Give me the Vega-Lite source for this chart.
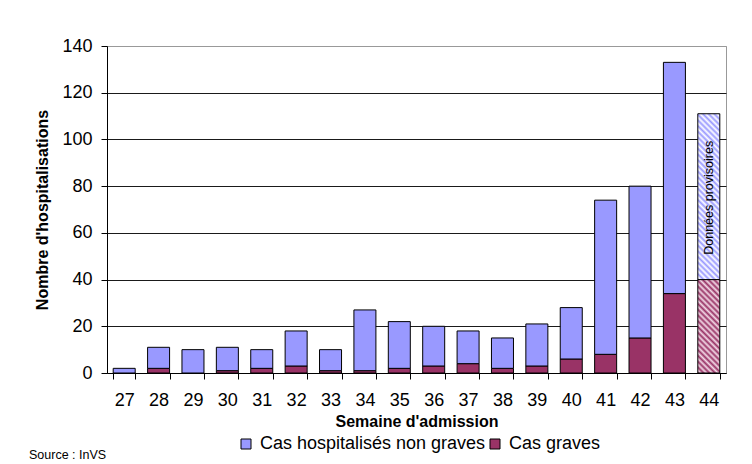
{
  "$schema": "https://vega.github.io/schema/vega-lite/v6.json",
  "width": 619,
  "height": 327,
  "autosize": {"type": "none"},
  "padding": {"left": 107, "top": 46, "right": 26, "bottom": 91},
  "background": "white",
  "config": {
    "font": "Liberation Sans",
    "view": {"stroke": "#999999", "strokeWidth": 1}
  },
  "title": {
    "text": "Source : InVS",
    "orient": "bottom",
    "anchor": "start",
    "frame": "group",
    "fontSize": 12.5,
    "fontWeight": "normal",
    "color": "black",
    "dx": -78,
    "dy": -4,
    "offset": 0
  },
  "datasets": {
    "hosp": [
      {"semaine": 27, "type": "Cas graves", "n": 0},
      {"semaine": 27, "type": "Cas hospitalisés non graves", "n": 2},
      {"semaine": 28, "type": "Cas graves", "n": 2},
      {"semaine": 28, "type": "Cas hospitalisés non graves", "n": 9},
      {"semaine": 29, "type": "Cas graves", "n": 0},
      {"semaine": 29, "type": "Cas hospitalisés non graves", "n": 10},
      {"semaine": 30, "type": "Cas graves", "n": 1},
      {"semaine": 30, "type": "Cas hospitalisés non graves", "n": 10},
      {"semaine": 31, "type": "Cas graves", "n": 2},
      {"semaine": 31, "type": "Cas hospitalisés non graves", "n": 8},
      {"semaine": 32, "type": "Cas graves", "n": 3},
      {"semaine": 32, "type": "Cas hospitalisés non graves", "n": 15},
      {"semaine": 33, "type": "Cas graves", "n": 1},
      {"semaine": 33, "type": "Cas hospitalisés non graves", "n": 9},
      {"semaine": 34, "type": "Cas graves", "n": 1},
      {"semaine": 34, "type": "Cas hospitalisés non graves", "n": 26},
      {"semaine": 35, "type": "Cas graves", "n": 2},
      {"semaine": 35, "type": "Cas hospitalisés non graves", "n": 20},
      {"semaine": 36, "type": "Cas graves", "n": 3},
      {"semaine": 36, "type": "Cas hospitalisés non graves", "n": 17},
      {"semaine": 37, "type": "Cas graves", "n": 4},
      {"semaine": 37, "type": "Cas hospitalisés non graves", "n": 14},
      {"semaine": 38, "type": "Cas graves", "n": 2},
      {"semaine": 38, "type": "Cas hospitalisés non graves", "n": 13},
      {"semaine": 39, "type": "Cas graves", "n": 3},
      {"semaine": 39, "type": "Cas hospitalisés non graves", "n": 18},
      {"semaine": 40, "type": "Cas graves", "n": 6},
      {"semaine": 40, "type": "Cas hospitalisés non graves", "n": 22},
      {"semaine": 41, "type": "Cas graves", "n": 8},
      {"semaine": 41, "type": "Cas hospitalisés non graves", "n": 66},
      {"semaine": 42, "type": "Cas graves", "n": 15},
      {"semaine": 42, "type": "Cas hospitalisés non graves", "n": 65},
      {"semaine": 43, "type": "Cas graves", "n": 34},
      {"semaine": 43, "type": "Cas hospitalisés non graves", "n": 99},
      {"semaine": 44, "type": "Cas graves", "n": 40},
      {"semaine": 44, "type": "Cas hospitalisés non graves", "n": 71}
    ]
  },
  "encoding": {
    "x": {
      "field": "semaine",
      "type": "ordinal",
      "scale": {
        "domain": [27, 28, 29, 30, 31, 32, 33, 34, 35, 36, 37, 38, 39, 40, 41, 42, 43, 44],
        "paddingInner": 0.36,
        "paddingOuter": 0.18
      },
      "axis": {
        "title": "Semaine d'admission",
        "titleFontSize": 16,
        "titleFontWeight": "bold",
        "titleColor": "black",
        "titleY": 53,
        "titleBaseline": "alphabetic",
        "labelAngle": 0,
        "labelFontSize": 18,
        "labelColor": "black",
        "labelPadding": 12,
        "tickSize": 6,
        "tickBand": "extent",
        "tickColor": "black",
        "domainColor": "black",
        "grid": false
      }
    }
  },
  "layer": [
    {
      "data": {"name": "hosp"},
      "transform": [{"filter": "datum.semaine != 44"}],
      "mark": {"type": "bar", "stroke": "black", "strokeWidth": 1},
      "encoding": {
        "y": {
          "field": "n",
          "type": "quantitative",
          "stack": "zero",
          "scale": {"domain": [0, 140]},
          "axis": {
            "title": "Nombre d'hospitalisations",
            "titleFontSize": 16,
            "titleFontWeight": "bold",
            "titleColor": "black",
            "titleAngle": 270,
            "titleX": -65,
            "titleY": 163.5,
            "titleBaseline": "middle",
            "titleAlign": "center",
            "values": [0, 20, 40, 60, 80, 100, 120, 140],
            "labelFontSize": 18,
            "labelColor": "black",
            "labelPadding": 9,
            "tickSize": 6,
            "tickColor": "black",
            "domainColor": "black",
            "grid": true,
            "gridColor": {"condition": {"test": "datum.value == 140", "value": "#999999"}, "value": "#1a1a1a"},
            "gridWidth": 1
          }
        },
        "color": {
          "field": "type",
          "type": "nominal",
          "scale": {
            "domain": ["Cas hospitalisés non graves", "Cas graves"],
            "range": ["#9999ff", "#993366"]
          },
          "legend": {
            "title": null,
            "orient": "none",
            "direction": "horizontal",
            "legendX": 130,
            "legendY": 389,
            "symbolType": "square",
            "symbolSize": 100,
            "symbolStrokeColor": "black",
            "symbolStrokeWidth": 1,
            "symbolOpacity": 1,
            "labelFontSize": 18,
            "labelColor": "black",
            "labelOffset": 5,
            "labelLimit": 400,
            "columnPadding": 0
          }
        },
        "order": {"field": "type", "sort": "ascending"}
      }
    },
    {
      "data": {"name": "hosp"},
      "transform": [{"filter": "datum.semaine == 44"}],
      "mark": {"type": "bar", "stroke": "black", "strokeWidth": 1},
      "encoding": {
        "y": {"field": "n", "type": "quantitative", "stack": "zero"},
        "detail": {"field": "type"},
        "order": {"field": "type", "sort": "ascending"},
        "fill": {
          "condition": {
            "test": "datum.type === 'Cas graves'",
            "value": {
              "gradient": "linear",
              "x1": 0, "y1": 1, "x2": 0.2758, "y2": -0.1707,
              "stops": [
                {"offset": 0, "color": "#993366"}, {"offset": 0.025, "color": "#f2d9e6"},
                {"offset": 0.05, "color": "#993366"}, {"offset": 0.075, "color": "#f2d9e6"},
                {"offset": 0.1, "color": "#993366"}, {"offset": 0.125, "color": "#f2d9e6"},
                {"offset": 0.15, "color": "#993366"}, {"offset": 0.175, "color": "#f2d9e6"},
                {"offset": 0.2, "color": "#993366"}, {"offset": 0.225, "color": "#f2d9e6"},
                {"offset": 0.25, "color": "#993366"}, {"offset": 0.275, "color": "#f2d9e6"},
                {"offset": 0.3, "color": "#993366"}, {"offset": 0.325, "color": "#f2d9e6"},
                {"offset": 0.35, "color": "#993366"}, {"offset": 0.375, "color": "#f2d9e6"},
                {"offset": 0.4, "color": "#993366"}, {"offset": 0.425, "color": "#f2d9e6"},
                {"offset": 0.45, "color": "#993366"}, {"offset": 0.475, "color": "#f2d9e6"},
                {"offset": 0.5, "color": "#993366"}, {"offset": 0.525, "color": "#f2d9e6"},
                {"offset": 0.55, "color": "#993366"}, {"offset": 0.575, "color": "#f2d9e6"},
                {"offset": 0.6, "color": "#993366"}, {"offset": 0.625, "color": "#f2d9e6"},
                {"offset": 0.65, "color": "#993366"}, {"offset": 0.675, "color": "#f2d9e6"},
                {"offset": 0.7, "color": "#993366"}, {"offset": 0.725, "color": "#f2d9e6"},
                {"offset": 0.75, "color": "#993366"}, {"offset": 0.775, "color": "#f2d9e6"},
                {"offset": 0.8, "color": "#993366"}, {"offset": 0.825, "color": "#f2d9e6"},
                {"offset": 0.85, "color": "#993366"}, {"offset": 0.875, "color": "#f2d9e6"},
                {"offset": 0.9, "color": "#993366"}, {"offset": 0.925, "color": "#f2d9e6"},
                {"offset": 0.95, "color": "#993366"}, {"offset": 0.975, "color": "#f2d9e6"},
                {"offset": 1, "color": "#993366"}
              ]
            }
          },
          "value": {
            "gradient": "linear",
            "x1": 0, "y1": 1, "x2": 0.1477, "y2": -0.1131,
            "stops": [
              {"offset": 0, "color": "#9999ff"}, {"offset": 0.0152, "color": "#ffffff"},
              {"offset": 0.0303, "color": "#9999ff"}, {"offset": 0.0455, "color": "#ffffff"},
              {"offset": 0.0606, "color": "#9999ff"}, {"offset": 0.0758, "color": "#ffffff"},
              {"offset": 0.0909, "color": "#9999ff"}, {"offset": 0.1061, "color": "#ffffff"},
              {"offset": 0.1212, "color": "#9999ff"}, {"offset": 0.1364, "color": "#ffffff"},
              {"offset": 0.1515, "color": "#9999ff"}, {"offset": 0.1667, "color": "#ffffff"},
              {"offset": 0.1818, "color": "#9999ff"}, {"offset": 0.1970, "color": "#ffffff"},
              {"offset": 0.2121, "color": "#9999ff"}, {"offset": 0.2273, "color": "#ffffff"},
              {"offset": 0.2424, "color": "#9999ff"}, {"offset": 0.2576, "color": "#ffffff"},
              {"offset": 0.2727, "color": "#9999ff"}, {"offset": 0.2879, "color": "#ffffff"},
              {"offset": 0.3030, "color": "#9999ff"}, {"offset": 0.3182, "color": "#ffffff"},
              {"offset": 0.3333, "color": "#9999ff"}, {"offset": 0.3485, "color": "#ffffff"},
              {"offset": 0.3636, "color": "#9999ff"}, {"offset": 0.3788, "color": "#ffffff"},
              {"offset": 0.3939, "color": "#9999ff"}, {"offset": 0.4091, "color": "#ffffff"},
              {"offset": 0.4242, "color": "#9999ff"}, {"offset": 0.4394, "color": "#ffffff"},
              {"offset": 0.4545, "color": "#9999ff"}, {"offset": 0.4697, "color": "#ffffff"},
              {"offset": 0.4848, "color": "#9999ff"}, {"offset": 0.5, "color": "#ffffff"},
              {"offset": 0.5152, "color": "#9999ff"}, {"offset": 0.5303, "color": "#ffffff"},
              {"offset": 0.5455, "color": "#9999ff"}, {"offset": 0.5606, "color": "#ffffff"},
              {"offset": 0.5758, "color": "#9999ff"}, {"offset": 0.5909, "color": "#ffffff"},
              {"offset": 0.6061, "color": "#9999ff"}, {"offset": 0.6212, "color": "#ffffff"},
              {"offset": 0.6364, "color": "#9999ff"}, {"offset": 0.6515, "color": "#ffffff"},
              {"offset": 0.6667, "color": "#9999ff"}, {"offset": 0.6818, "color": "#ffffff"},
              {"offset": 0.6970, "color": "#9999ff"}, {"offset": 0.7121, "color": "#ffffff"},
              {"offset": 0.7273, "color": "#9999ff"}, {"offset": 0.7424, "color": "#ffffff"},
              {"offset": 0.7576, "color": "#9999ff"}, {"offset": 0.7727, "color": "#ffffff"},
              {"offset": 0.7879, "color": "#9999ff"}, {"offset": 0.8030, "color": "#ffffff"},
              {"offset": 0.8182, "color": "#9999ff"}, {"offset": 0.8333, "color": "#ffffff"},
              {"offset": 0.8485, "color": "#9999ff"}, {"offset": 0.8636, "color": "#ffffff"},
              {"offset": 0.8788, "color": "#9999ff"}, {"offset": 0.8939, "color": "#ffffff"},
              {"offset": 0.9091, "color": "#9999ff"}, {"offset": 0.9242, "color": "#ffffff"},
              {"offset": 0.9394, "color": "#9999ff"}, {"offset": 0.9545, "color": "#ffffff"},
              {"offset": 0.9697, "color": "#9999ff"}, {"offset": 0.9848, "color": "#ffffff"},
              {"offset": 1, "color": "#9999ff"}
            ]
          }
        }
      }
    },
    {
      "data": {"values": [{"semaine": 44, "label": "Données provisoires"}]},
      "mark": {"type": "text", "angle": 270, "fontSize": 12.5, "color": "black", "align": "center", "baseline": "middle"},
      "encoding": {
        "y": {"datum": 75, "type": "quantitative"},
        "text": {"field": "label"}
      }
    }
  ]
}
